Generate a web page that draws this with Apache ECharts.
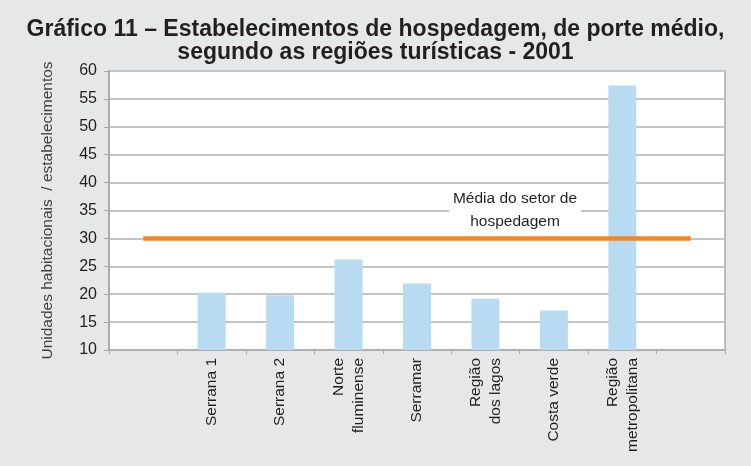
<!DOCTYPE html>
<html>
<head>
<meta charset="utf-8">
<script src="https://cdn.jsdelivr.net/npm/echarts@6/dist/echarts.min.js"></script>
<style>
  html, body { margin: 0; padding: 0; background: #e6e7e8; }
  #main { width: 751px; height: 466px; }
</style>
</head>
<body>
<div id="main"></div>
<script>
// categorias (as pontas vazias só servem para a linha da média)
let regioes = ['', 'Serrana 1', 'Serrana 2', 'Norte\nfluminense', 'Serramar', 'Região\ndos lagos', 'Costa verde', 'Região\nmetropolitana', ''];
let unidades = ['-', 20.3, 19.8, 26.2, 21.9, 19.2, 17.1, 57.4, '-'];
let mediaSetor = [30, 30, 30, 30, 30, 30, 30, 30, 30];
let yTicks = [10, 60, 5]; // min, max, intervalo

let myChart = echarts.init(document.getElementById('main'));
let option = {
    backgroundColor: '#e6e7e8',
    animation: false,
    title: {
        text: 'Gráfico 11 – Estabelecimentos de hospedagem, de porte médio,\nsegundo as regiões turísticas - 2001',
        left: 'center',
        top: 13,
        textStyle: {
            fontFamily: 'Liberation Sans',
            fontWeight: 'bold',
            fontSize: 23,
            lineHeight: 23,
            color: '#231f20'
        }
    },
    grid: {
        left: 109,
        right: 26,
        top: 71,
        bottom: 116,
        show: true,
        backgroundColor: '#fff',
        borderColor: '#a7a9ac',
        borderWidth: 1.5
    },
    xAxis: {
        type: 'category',
        data: regioes,
        boundaryGap: true,
        axisLine: { lineStyle: { color: '#a7a9ac', width: 1.5 } },
        axisTick: { show: true, length: 4, lineStyle: { color: '#a7a9ac' } },
        axisLabel: {
            rotate: 90,
            interval: 0,
            margin: 8,
            fontFamily: 'Liberation Sans',
            fontSize: 15.5,
            lineHeight: 20,
            color: '#231f20'
        }
    },
    yAxis: {
        type: 'value',
        min: yTicks[0],
        max: yTicks[1],
        interval: yTicks[2],
        name: 'Unidades habitacionais  / estabelecimentos',
        nameLocation: 'middle',
        nameGap: 53,
        nameTextStyle: {
            fontFamily: 'Liberation Sans',
            fontSize: 15.5,
            color: '#414042'
        },
        axisLine: { show: true, lineStyle: { color: '#a7a9ac', width: 1.5 } },
        axisTick: { show: true, length: 5, lineStyle: { color: '#a7a9ac' } },
        axisLabel: {
            margin: 12,
            fontFamily: 'Liberation Sans',
            fontSize: 16,
            color: '#231f20'
        },
        splitLine: { lineStyle: { color: '#c4c4c4', width: 2 } }
    },
    series: [
        {
            name: 'Unidades',
            type: 'bar',
            data: unidades,
            barWidth: 28,
            itemStyle: { color: '#b9dbf2' },
            z: 2
        },
        {
            name: 'Média do setor de hospedagem',
            type: 'line',
            data: mediaSetor,
            symbol: 'none',
            lineStyle: { color: '#f6851f', width: 4.5 },
            z: 3
        }
    ],
    graphic: [
        {
            type: 'text',
            x: 515,
            y: 187,
            style: {
                text: 'Média do setor de\nhospedagem',
                textAlign: 'center',
                textVerticalAlign: 'top',
                font: '15.5px "Liberation Sans"',
                lineHeight: 23,
                fill: '#231f20',
                backgroundColor: '#fff',
                padding: [0, 4]
            },
            z: 10
        }
    ]
};
myChart.setOption(option);
</script>
</body>
</html>
